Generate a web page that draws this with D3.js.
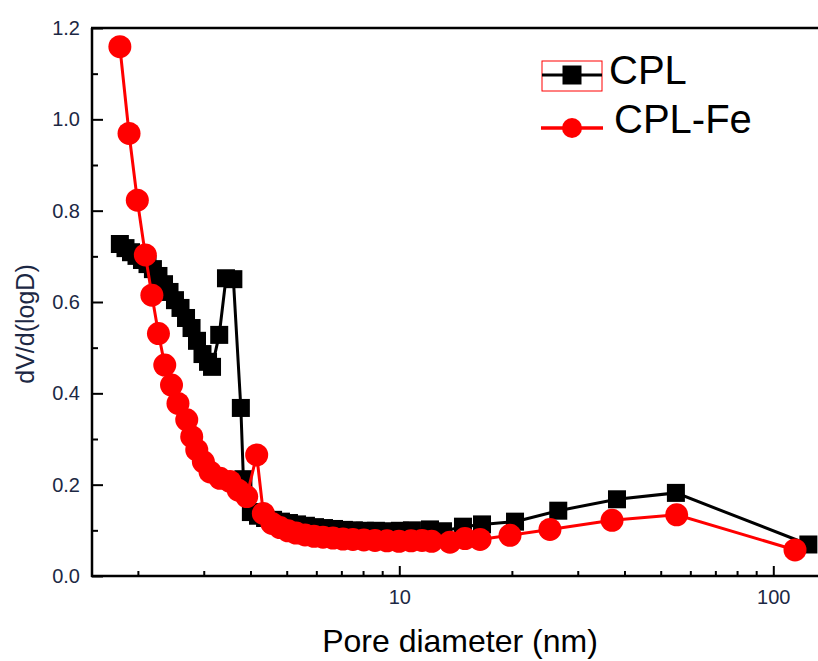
<!DOCTYPE html>
<html>
<head>
<meta charset="utf-8">
<script src="https://cdn.jsdelivr.net/npm/d3@7"></script>
<style>
  body { margin: 0; background: #fff; }
  text { font-family: "Liberation Sans", Arial, sans-serif; }
</style>
</head>
<body>
<div id="chart"></div>
<script>
// Data
var cplDiameter = [1.79, 1.853, 1.917, 1.983, 2.051, 2.122, 2.194, 2.27, 2.349, 2.43, 2.513, 2.6, 2.69, 2.783,
  2.878, 2.977, 3.08, 3.157, 3.30, 3.44, 3.60, 3.77, 3.83, 4.01, 4.19, 4.376, 4.597, 4.826, 5.07, 5.328,
  5.628, 5.951, 6.29, 6.69, 7.11, 7.56, 8.09, 8.66, 9.33, 10.04, 10.81, 12.08, 13.09, 14.8, 16.64, 20.39,
  26.61, 38.2, 54.9, 124.1];
var cplValues = [0.727, 0.718, 0.709, 0.701, 0.692, 0.683, 0.672, 0.657, 0.639, 0.622, 0.604, 0.587, 0.565, 0.543,
  0.515, 0.486, 0.469, 0.458, 0.528, 0.652, 0.650, 0.368, 0.212, 0.140, 0.132, 0.127, 0.123, 0.119, 0.116, 0.113,
  0.110, 0.107, 0.105, 0.103, 0.101, 0.100, 0.099, 0.099, 0.098, 0.099, 0.100, 0.102, 0.098, 0.108, 0.113, 0.119,
  0.143, 0.168, 0.182, 0.069];

var feDiameter = [1.79, 1.894, 1.993, 2.094, 2.18, 2.27, 2.36, 2.46, 2.56, 2.702, 2.786, 2.874, 2.993, 3.119,
  3.316, 3.526, 3.711, 3.908, 4.156, 4.33, 4.566, 4.797, 5.04, 5.296, 5.598, 5.914, 6.252, 6.648, 7.07, 7.516,
  8.04, 8.61, 9.27, 9.98, 10.75, 11.5, 12.2, 13.66, 14.98, 16.44, 19.77, 25.28, 37.05, 55.16, 114.3];
var feValues = [1.159, 0.969, 0.823, 0.703, 0.615, 0.531, 0.462, 0.418, 0.378, 0.342, 0.305, 0.276, 0.250, 0.228,
  0.214, 0.207, 0.188, 0.174, 0.265, 0.137, 0.115, 0.106, 0.099, 0.094, 0.090, 0.087, 0.085, 0.083, 0.081, 0.080,
  0.079, 0.078, 0.077, 0.076, 0.077, 0.078, 0.076, 0.074, 0.082, 0.080, 0.089, 0.102, 0.122, 0.134, 0.057];

var seriesNames = ["CPL", "CPL-Fe"];
var yMajorTicks = [0, 0.2, 0.4, 0.6, 0.8, 1.0, 1.2];
var yMinorTicks = [0.1, 0.3, 0.5, 0.7, 0.9, 1.1];
var xMajorTicks = [10, 100];
var xMinorTicks = [2, 3, 4, 5, 6, 7, 8, 9, 20, 30, 40, 50, 60, 70, 80, 90];

// Set up the chart
var svgWidth = 818;
var svgHeight = 661;

var plotLeft = 92;
var plotTop = 28;
var plotBottom = 576;
var decade = 374; // px per decade on the log axis
var tenAt = 399.3;

var svg = d3.select("#chart")
  .append("svg")
  .attr("width", svgWidth)
  .attr("height", svgHeight);

// Scales
var xMin = 1.5, xMax = 150;
var xScale = d3.scaleLog()
  .domain([xMin, xMax])
  .range([tenAt - decade * (1 - Math.log10(xMin)), tenAt + decade * (Math.log10(xMax) - 1)]);

var yScale = d3.scaleLinear()
  .domain([0, 1.2])
  .range([plotBottom, plotTop]);

var labelColor = "#1c2844";

// Y axis (ticks point inward)
var yAxisG = svg.append("g")
  .attr("transform", `translate(${plotLeft}, 0)`)
  .call(d3.axisLeft(yScale).tickValues(yMajorTicks).tickSizeInner(-11).tickSizeOuter(0)
    .tickPadding(12).tickFormat(d3.format(".1f")));
yAxisG.select(".domain").remove();
yAxisG.selectAll("line").attr("stroke", "#000").attr("stroke-width", 2);
yAxisG.selectAll("text").attr("font-size", 20).attr("fill", labelColor);

var yMinorG = svg.append("g")
  .attr("transform", `translate(${plotLeft}, 0)`)
  .call(d3.axisLeft(yScale).tickValues(yMinorTicks).tickSizeInner(-6).tickSizeOuter(0).tickFormat(""));
yMinorG.select(".domain").remove();
yMinorG.selectAll("line").attr("stroke", "#000").attr("stroke-width", 2);

// X axis (log, ticks point inward)
var xAxisG = svg.append("g")
  .attr("transform", `translate(0, ${plotBottom})`)
  .call(d3.axisBottom(xScale).tickValues(xMajorTicks).tickSizeInner(-10).tickSizeOuter(0)
    .tickPadding(14).tickFormat(d3.format("d")));
xAxisG.select(".domain").remove();
xAxisG.selectAll("line").attr("stroke", "#000").attr("stroke-width", 2);
xAxisG.selectAll("text").attr("font-size", 20).attr("fill", labelColor);

var xMinorG = svg.append("g")
  .attr("transform", `translate(0, ${plotBottom})`)
  .call(d3.axisBottom(xScale).tickValues(xMinorTicks).tickSizeInner(-5).tickSizeOuter(0).tickFormat(""));
xMinorG.select(".domain").remove();
xMinorG.selectAll("line").attr("stroke", "#000").attr("stroke-width", 2);

// Frame lines: left, bottom, top
svg.append("line")
  .attr("x1", plotLeft).attr("x2", plotLeft)
  .attr("y1", plotTop).attr("y2", plotBottom + 1)
  .attr("stroke", "#000").attr("stroke-width", 2.5);
svg.append("line")
  .attr("x1", plotLeft - 1).attr("x2", svgWidth)
  .attr("y1", plotBottom).attr("y2", plotBottom)
  .attr("stroke", "#000").attr("stroke-width", 2.5);
svg.append("line")
  .attr("x1", plotLeft - 1).attr("x2", svgWidth)
  .attr("y1", plotTop).attr("y2", plotTop)
  .attr("stroke", "#000").attr("stroke-width", 2.5);

// Axis titles
svg.append("text")
  .attr("transform", "rotate(-90)")
  .attr("x", -324)
  .attr("y", 34)
  .attr("text-anchor", "middle")
  .attr("font-size", 25)
  .attr("fill", labelColor)
  .text("dV/d(logD)");

svg.append("text")
  .attr("x", 460)
  .attr("y", 652)
  .attr("text-anchor", "middle")
  .attr("font-size", 32)
  .attr("fill", "#000")
  .text("Pore diameter (nm)");

// Series
var cplData = cplDiameter.map((d, i) => ({ x: d, y: cplValues[i] }));
var feData = feDiameter.map((d, i) => ({ x: d, y: feValues[i] }));

var line = d3.line()
  .x(d => xScale(d.x))
  .y(d => yScale(d.y));

var squareSize = 18;
var circleR = 11.5;

// CPL: black line + squares
svg.append("path")
  .datum(cplData)
  .attr("d", line)
  .attr("fill", "none")
  .attr("stroke", "#000")
  .attr("stroke-width", 3);

svg.append("g").selectAll("rect")
  .data(cplData)
  .enter()
  .append("rect")
  .attr("x", d => xScale(d.x) - squareSize / 2)
  .attr("y", d => yScale(d.y) - squareSize / 2)
  .attr("width", squareSize)
  .attr("height", squareSize)
  .attr("fill", "#000");

// CPL-Fe: red line + circles
svg.append("path")
  .datum(feData)
  .attr("d", line)
  .attr("fill", "none")
  .attr("stroke", "#ff0000")
  .attr("stroke-width", 3);

svg.append("g").selectAll("circle")
  .data(feData)
  .enter()
  .append("circle")
  .attr("cx", d => xScale(d.x))
  .attr("cy", d => yScale(d.y))
  .attr("r", circleR)
  .attr("fill", "#ff0000");

// Legend
var legend = svg.append("g");

legend.append("rect")
  .attr("x", 542).attr("y", 61)
  .attr("width", 60).attr("height", 30)
  .attr("fill", "none")
  .attr("stroke", "#ff0000")
  .attr("stroke-width", 1);
legend.append("line")
  .attr("x1", 542).attr("x2", 602)
  .attr("y1", 75).attr("y2", 75)
  .attr("stroke", "#000").attr("stroke-width", 3);
legend.append("rect")
  .attr("x", 572 - 9.5).attr("y", 75 - 9.5)
  .attr("width", 19).attr("height", 19)
  .attr("fill", "#000");
legend.append("text")
  .attr("x", 609).attr("y", 84)
  .attr("font-size", 40)
  .attr("fill", "#000")
  .text(seriesNames[0]);

legend.append("line")
  .attr("x1", 541).attr("x2", 603)
  .attr("y1", 128).attr("y2", 128)
  .attr("stroke", "#ff0000").attr("stroke-width", 3.5);
legend.append("circle")
  .attr("cx", 572).attr("cy", 128)
  .attr("r", 10)
  .attr("fill", "#ff0000");
legend.append("text")
  .attr("x", 614).attr("y", 133)
  .attr("font-size", 40)
  .attr("fill", "#000")
  .text(seriesNames[1]);
</script>
</body>
</html>
